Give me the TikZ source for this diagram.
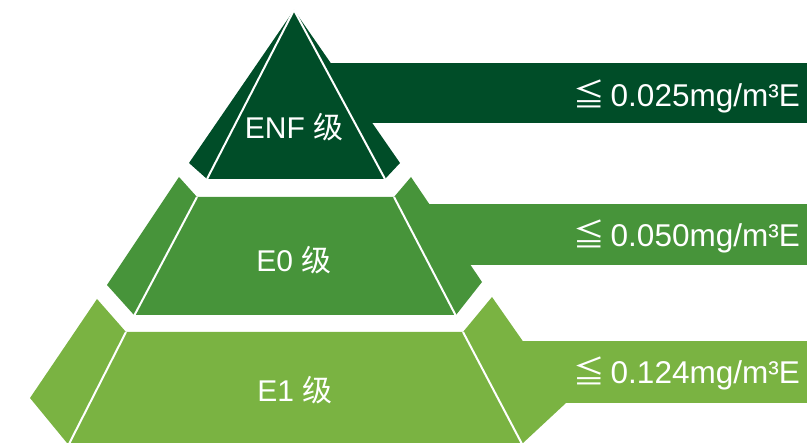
\documentclass[tikz,border=0pt]{standalone}
\usepackage{fontspec}
\setmainfont{Liberation Sans}
\newfontfamily\cjk{Noto Sans CJK SC}
\definecolor{tierA}{RGB}{0,77,40}
\definecolor{tierB}{RGB}{71,148,58}
\definecolor{tierC}{RGB}{122,179,66}
\begin{document}
\begin{tikzpicture}[x=1pt,y=-1pt,
  split/.style={draw=white,line width=2pt},
  tierlabel/.style={text=white,anchor=base,inner sep=0pt,font=\fontsize{30}{36}\selectfont},
  barlabel/.style={text=white,anchor=base east,inner sep=0pt,font=\fontsize{31.5}{38}\selectfont}]
\useasboundingbox (0,0) rectangle (807,443);
% bars (behind)
\fill[tierA] (320,63) rectangle (807,123);
\fill[tierB] (420,204) rectangle (807,265);
\fill[tierC] (510,341) rectangle (807,403);
% top tier
\fill[tierA] (294,10) -- (400,163) -- (385,179) -- (207,179) -- (189,163) -- cycle;
\coordinate (a0) at (294,10);
\coordinate (a1) at (207,179);
\coordinate (a2) at (385,179);
\draw[split] (a0) -- (a1);
\draw[split] (a0) -- (a2);
% middle tier
\fill[tierB] (179,177) -- (197,197) -- (394,197) -- (411,177) -- (482,282) -- (456,315) -- (134,315) -- (107,285) -- cycle;
\coordinate (b0) at (197,197);
\coordinate (b1) at (134,316);
\coordinate (b2) at (394,197);
\coordinate (b3) at (456,316);
\draw[split] (b0) -- (b1);
\draw[split] (b2) -- (b3);
% bottom tier
\fill[tierC] (97,299) -- (126,332) -- (463,332) -- (492,297) -- (566,403) -- (523,443) -- (67,443) -- (30,398) -- cycle;
\coordinate (c0) at (126,332);
\coordinate (c1) at (69,444);
\coordinate (c2) at (463,332);
\coordinate (c3) at (522,444);
\draw[split] (c0) -- (c1);
\draw[split] (c2) -- (c3);
% labels
\node[tierlabel] (l1) at (294,138.5) {ENF {\cjk 级}};
\node[tierlabel] (l2) at (294,271.5) {E0 {\cjk 级}};
\node[tierlabel] (l3) at (295,401.5) {E1 {\cjk 级}};
\node[barlabel] (v1) at (800,106.5) {{\cjk ≦}\,0.025mg/m³E};
\node[barlabel] (v2) at (800,246.5) {{\cjk ≦}\,0.050mg/m³E};
\node[barlabel] (v3) at (800,384) {{\cjk ≦}\,0.124mg/m³E};
\end{tikzpicture}
\end{document}
